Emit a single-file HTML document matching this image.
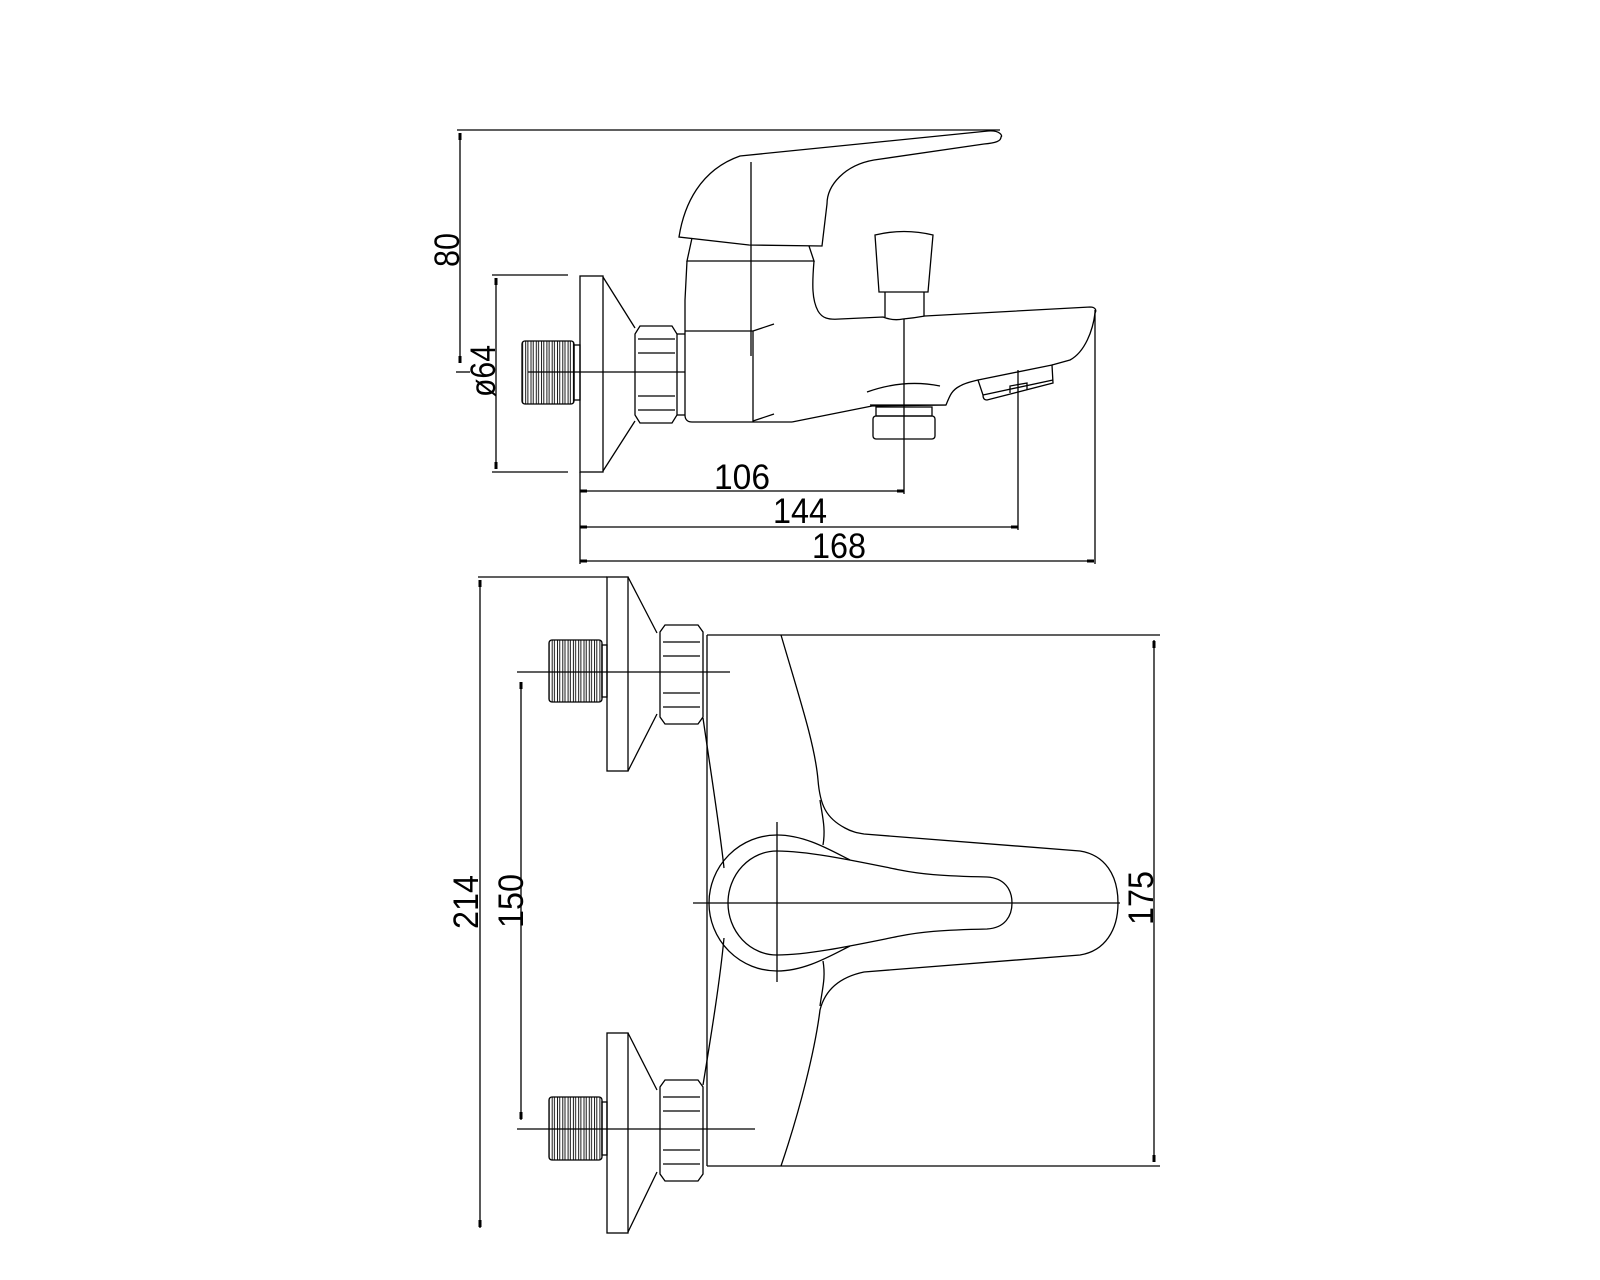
<!DOCTYPE html>
<html><head><meta charset="utf-8"><style>
html,body{margin:0;padding:0;background:#fff;}
svg{display:block;}
text{font-family:"Liberation Sans",sans-serif;font-size:35px;fill:#000;}
</style></head><body>
<svg width="1600" height="1280" viewBox="0 0 1600 1280" xmlns="http://www.w3.org/2000/svg">
<defs>
<pattern id="thr" x="0" y="0" width="5.3" height="10" patternUnits="userSpaceOnUse">
<line x1="1" y1="0" x2="1" y2="10" stroke="#000" stroke-width="0.9"/>
<line x1="3.2" y1="0" x2="3.2" y2="10" stroke="#000" stroke-width="0.9"/>
</pattern>
</defs>
<g fill="none" stroke="#000" stroke-width="1.3">
<!-- ===== TOP VIEW ===== -->
<!-- dims -->
<line x1="457" y1="130" x2="1000" y2="130"/>
<line x1="460" y1="133" x2="460" y2="363"/>
<line x1="456" y1="372" x2="470" y2="372"/>
<line x1="492" y1="275" x2="568" y2="275"/>
<line x1="492" y1="472" x2="568" y2="472"/>
<line x1="496" y1="278" x2="496" y2="469"/>
<line x1="580" y1="472" x2="580" y2="564"/>
<line x1="580" y1="491" x2="904" y2="491"/>
<line x1="580" y1="527" x2="1018" y2="527"/>
<line x1="580" y1="561" x2="1094" y2="561"/>
<line x1="904" y1="319" x2="904" y2="494"/>
<line x1="1018" y1="370" x2="1018" y2="530"/>
<line x1="1095" y1="310" x2="1095" y2="564"/>
<!-- flange -->
<rect x="580" y="276" width="23" height="196"/>
<line x1="603" y1="277" x2="635" y2="328"/>
<line x1="603" y1="471" x2="635" y2="421"/>
<!-- nut -->
<path d="M640,326 L672,326 L677,334 L677,415 L672,423 L640,423 L635,415 L635,334 Z"/>
<line x1="638" y1="339" x2="675" y2="339"/>
<line x1="638" y1="353" x2="675" y2="353"/>
<line x1="638" y1="396" x2="675" y2="396"/>
<line x1="638" y1="410" x2="675" y2="410"/>
<line x1="677" y1="334" x2="685" y2="334"/>
<line x1="677" y1="415" x2="685" y2="415"/>
<!-- thread -->
<rect x="522" y="341" width="52" height="63" rx="3" fill="url(#thr)"/>
<rect x="574" y="345" width="6" height="55"/>
<line x1="528" y1="372" x2="685" y2="372"/>
<!-- lever -->
<path d="M679,237 C684,205 700,170 740,156 L988,131 C1000,130 1003,136 1001,137 C1001,141 996,143 984,144 L874,160 C845,165 827,185 827,204 L822,246 L749,245 L679,237 Z"/>
<line x1="751" y1="162" x2="751" y2="356"/>
<path d="M692,238 L687,261 L814,261 L809,246"/>
<!-- body -->
<path d="M687,261 L685,300 L685,415 C685,420 688,422 692,422 L792,422"/>
<line x1="685" y1="331" x2="753" y2="331"/>
<line x1="753" y1="331" x2="774" y2="324"/>
<line x1="753" y1="331" x2="753" y2="422"/>
<line x1="753" y1="421" x2="774" y2="414"/>
<path d="M814,261 C812,285 812,300 818,311 C822,318 828,320 840,319 L883,317 Q893,321 903,319 Q914,318 925,316 L1090,307 C1095,307 1097,310 1095,313 C1093,330 1085,352 1070,360 L1052,365"/>
<path d="M792,422 L872,406 L946,405 C950,395 952,390 960,386 C965,383 970,382 978,380"/>
<path d="M867,392 C895,382 920,382 940,386"/>
<!-- aerator -->
<path d="M978,380 L1052,365 L1053,383 L987,400 C984,400 983,398 983,395 Z"/>
<line x1="983" y1="395" x2="1053" y2="380"/>
<path d="M1010,393 L1010,386 L1027,383 L1027,390"/>
<!-- shower outlet -->
<line x1="870" y1="405" x2="946" y2="405"/>
<rect x="876" y="407" width="56" height="9"/>
<rect x="873" y="416" width="62" height="23" rx="3"/>
<!-- diverter knob -->
<path d="M875,235 Q904,228 933,235 L928,292 L879,292 Z"/>
<line x1="885" y1="292" x2="885" y2="317"/>
<line x1="924" y1="292" x2="924" y2="316"/>

<!-- ===== BOTTOM VIEW ===== -->
<line x1="478" y1="577" x2="607" y2="577"/>
<line x1="480" y1="580" x2="480" y2="1228"/>
<line x1="521" y1="682" x2="521" y2="1120"/>
<line x1="517" y1="672" x2="730" y2="672"/>
<line x1="517" y1="1129" x2="755" y2="1129"/>
<line x1="707" y1="635" x2="1160" y2="635"/>
<line x1="707" y1="1166" x2="1160" y2="1166"/>
<line x1="707" y1="635" x2="707" y2="1166"/>
<line x1="1154" y1="640" x2="1154" y2="1162"/>
<!-- flanges -->
<rect x="607" y="577" width="21" height="194"/>
<line x1="628" y1="577" x2="657" y2="633"/>
<line x1="628" y1="771" x2="657" y2="714"/>
<rect x="607" y="1033" width="21" height="200"/>
<line x1="628" y1="1033" x2="657" y2="1090"/>
<line x1="628" y1="1232" x2="657" y2="1172"/>
<!-- nuts -->
<path d="M665,625 L698,625 L703,632 L703,717 L698,724 L665,724 L660,717 L660,632 Z"/>
<line x1="663" y1="642" x2="700" y2="642"/>
<line x1="663" y1="656" x2="700" y2="656"/>
<line x1="663" y1="693" x2="700" y2="693"/>
<line x1="663" y1="707" x2="700" y2="707"/>
<path d="M665,1080 L698,1080 L703,1087 L703,1174 L698,1181 L665,1181 L660,1174 L660,1087 Z"/>
<line x1="663" y1="1097" x2="700" y2="1097"/>
<line x1="663" y1="1111" x2="700" y2="1111"/>
<line x1="663" y1="1150" x2="700" y2="1150"/>
<line x1="663" y1="1164" x2="700" y2="1164"/>
<!-- threads -->
<rect x="549" y="640" width="53" height="62" rx="3" fill="url(#thr)"/>
<rect x="602" y="645" width="5" height="52"/>
<rect x="549" y="1097" width="53" height="63" rx="3" fill="url(#thr)"/>
<rect x="602" y="1102" width="5" height="53"/>
<!-- body curves -->
<path d="M781,635 C800,700 815,745 818,780 C820,805 826,818 845,828 C852,832 858,833 864,834 L1080,851 C1105,855 1118,875 1118,903 C1118,930 1105,951 1080,955 L864,972 C845,976 826,986 820,1010 C815,1050 800,1110 781,1166"/>
<path d="M820,800 C822,815 826,828 823,845"/>
<path d="M820,1006 C822,990 826,978 823,961"/>
<path d="M703,718 C712,780 720,830 724,868"/>
<path d="M724,938 C720,980 712,1030 703,1085"/>
<!-- handle -->
<path d="M850,860 C830,850 805,835 777,835 A68,68 0 0 0 777,971 C805,971 830,956 850,946"/>
<path d="M777,851 C810,851 860,862 900,870 C920,874 940,876 987,877 C1005,878 1012,890 1012,903 C1012,916 1005,928 987,929 C940,930 920,932 900,936 C860,944 810,955 777,955 A49,52 0 0 1 777,851 Z"/>
<line x1="693" y1="903" x2="1120" y2="903"/>
<line x1="777" y1="822" x2="777" y2="982"/>
</g>
<!-- arrow ticks -->
<g fill="#000">
<rect x="458.5" y="133" width="3" height="7"/>
<rect x="458.5" y="356" width="3" height="7"/>
<rect x="494.5" y="278" width="3" height="7"/>
<rect x="494.5" y="462" width="3" height="7"/>
<rect x="580" y="489.5" width="7" height="3"/>
<rect x="897" y="489.5" width="7" height="3"/>
<rect x="580" y="525.5" width="7" height="3"/>
<rect x="1011" y="525.5" width="7" height="3"/>
<rect x="580" y="559.5" width="7" height="3"/>
<rect x="1087" y="559.5" width="7" height="3"/>
<rect x="478.5" y="580" width="3" height="7"/>
<rect x="478.5" y="1220" width="3" height="7"/>
<rect x="519.5" y="682" width="3" height="7"/>
<rect x="519.5" y="1112" width="3" height="7"/>
<rect x="1152.5" y="641" width="3" height="7"/>
<rect x="1152.5" y="1155" width="3" height="7"/>
</g>
<!-- texts -->
<text x="742" y="489" text-anchor="middle" textLength="56" lengthAdjust="spacingAndGlyphs">106</text>
<text x="800" y="523" text-anchor="middle" textLength="54" lengthAdjust="spacingAndGlyphs">144</text>
<text x="839" y="558" text-anchor="middle" textLength="54" lengthAdjust="spacingAndGlyphs">168</text>
<text transform="translate(459,250) rotate(-90)" text-anchor="middle" textLength="34" lengthAdjust="spacingAndGlyphs">80</text>
<text transform="translate(495,371) rotate(-90)" text-anchor="middle" textLength="52" lengthAdjust="spacingAndGlyphs">ø64</text>
<text transform="translate(478,902) rotate(-90)" text-anchor="middle" textLength="54" lengthAdjust="spacingAndGlyphs">214</text>
<text transform="translate(523,901) rotate(-90)" text-anchor="middle" textLength="54" lengthAdjust="spacingAndGlyphs">150</text>
<text transform="translate(1153,898) rotate(-90)" text-anchor="middle" textLength="54" lengthAdjust="spacingAndGlyphs">175</text>
</svg>
</body></html>
